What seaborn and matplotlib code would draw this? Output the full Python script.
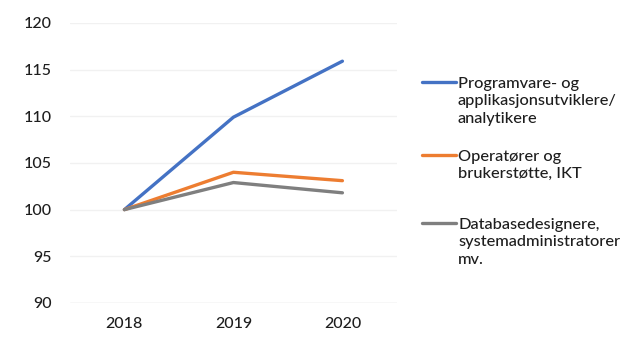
import matplotlib
matplotlib.use("Agg")
import matplotlib.pyplot as plt
from matplotlib.lines import Line2D
import pandas as pd
import seaborn as sns

years = ["2018", "2019", "2020"]
series_names = [
    "Programvare- og\napplikasjonsutviklere/\nanalytikere",
    "Operatører og\nbrukerstøtte, IKT",
    "Databasedesignere,\nsystemadministratorer\nmv.",
]
programvare = [100, 109.9, 115.9]
operatorer = [100, 104.0, 103.1]
database = [100, 102.9, 101.8]
yticks = [90, 95, 100, 105, 110, 115, 120]
colors = ["#4472C4", "#ED7D31", "#7F7F7F"]

df = pd.DataFrame({
    "år": years * 3,
    "indeks": programvare + operatorer + database,
    "gruppe": [series_names[0]] * 3 + [series_names[1]] * 3 + [series_names[2]] * 3,
})

sns.set_theme(style="white")
plt.rcParams["font.family"] = ["Lato", "DejaVu Sans"]

fig = plt.figure(figsize=(6.3, 3.37), dpi=100)
ax = fig.add_axes([0.111, 0.101, 0.519, 0.831])

sns.lineplot(data=df, x="år", y="indeks", hue="gruppe", palette=colors,
             hue_order=series_names, sort=False, linewidth=2.4, legend=False, ax=ax)

ax.set_xlim(-0.5, 2.5)
ax.set_ylim(90, 120)
ax.set_yticks(yticks)
ax.set_yticklabels([str(v) for v in yticks])
ax.set_xlabel("")
ax.set_ylabel("")
for s in ax.spines.values():
    s.set_visible(False)
for v in yticks[1:]:
    ax.axhline(v, color="#f1f1f1", linewidth=1.0, zorder=0)
ax.axhline(90, color="#d9d9d9", linewidth=1.0, zorder=0)
ax.tick_params(axis="both", length=0, labelsize=11.5, colors="#1e1e1e")
ax.tick_params(axis="y", pad=13)
ax.tick_params(axis="x", pad=10)
for lbl in ax.get_xticklabels() + ax.get_yticklabels():
    lbl.set_fontweight("medium")

# legend drawn beside the plot, handle aligned with the first line of each label
W, H = 630, 337
legend_rows = [82, 155, 223]
for name, col, yp in zip(series_names, colors, legend_rows):
    yf = 1 - yp / H
    fig.add_artist(Line2D([422 / W, 456 / W], [yf, yf], color=col, linewidth=2.4,
                          transform=fig.transFigure))
    fig.text(458 / W, yf + 5 / H, name, ha="left", va="top", fontsize=11.8,
             color="#1e1e1e", linespacing=1.3, fontweight="medium")

fig.savefig("out.png", dpi=100)
